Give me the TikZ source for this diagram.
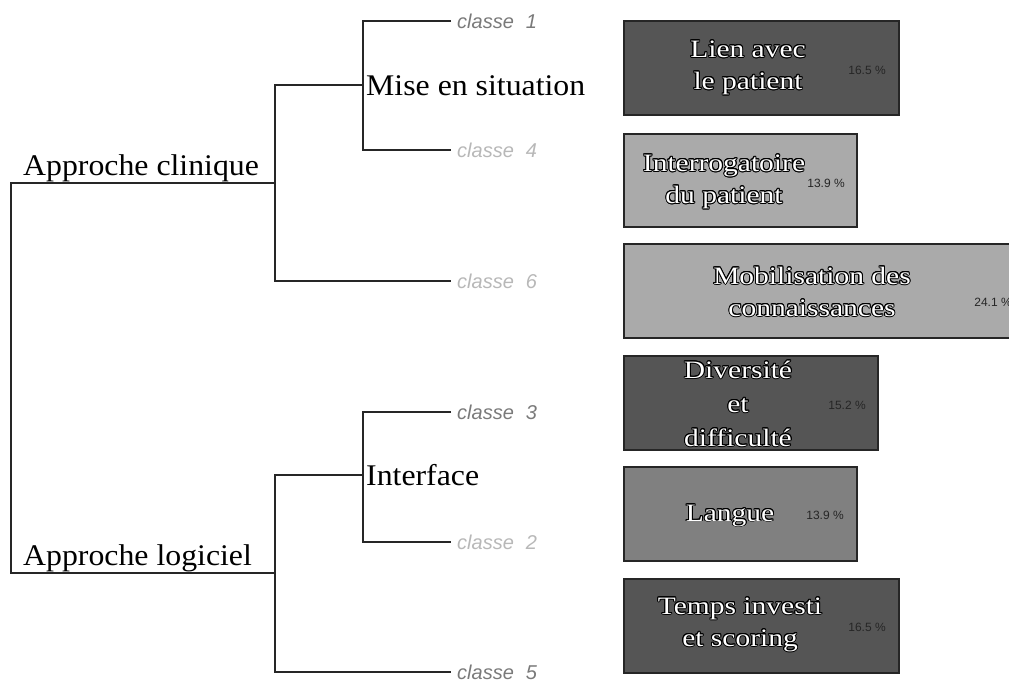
\documentclass[tikz,border=0pt]{standalone}
\usepackage{fontspec}
\usepackage{xcolor}
\usepackage{tikz}
\usepackage{contour}
\usetikzlibrary{positioning}
\setmainfont{Liberation Serif}
\newfontfamily\treefont[FakeStretch=1.06]{Liberation Serif}
\newfontfamily\boxfont[FakeStretch=1.18]{Liberation Serif}
\newfontfamily\classfont{Liberation Sans}
\contourlength{0.9pt}
\definecolor{clsdark}{HTML}{7A7A7A}
\definecolor{clslight}{HTML}{B8B8B8}
\definecolor{bxdark}{HTML}{555555}
\definecolor{bxmid}{HTML}{808080}
\definecolor{bxlight}{HTML}{AAAAAA}
\newcommand{\outlined}[1]{\contour{black}{#1}}
\tikzset{
  tree/.style  ={draw=black!85, line width=1.8pt},
  grp/.style   ={font=\treefont\fontsize{30}{32}\selectfont, inner sep=0pt,
                 anchor=base west},
  cls/.style   ={font=\classfont\itshape\fontsize{20}{22}\selectfont,
                 inner sep=0pt, anchor=base west},
  theme/.style ={rectangle, draw=black!85, line width=1.8pt, anchor=north west,
                 inner sep=0pt},
  ttxt/.style  ={font=\boxfont\fontsize{25}{32}\selectfont, text=white,
                 align=center, inner sep=0pt},
  pct/.style   ={font=\classfont\fontsize{12}{12}\selectfont, text=black!85,
                 inner sep=0pt}
}
\begin{document}
\begin{tikzpicture}[x=1pt, y=-1pt]
\clip (0,0) rectangle (1009,681);
\fill[white] (0,0) rectangle (1009,681);
% dendrogram
\coordinate (root1) at (11,183);
\coordinate (root2) at (11,573);
\coordinate (cli)   at (275,183);
\coordinate (log)   at (275,573);
\coordinate (mis)   at (363,85);
\coordinate (int)   at (363,475);
\coordinate (e1) at (451,21);
\coordinate (e4) at (451,150);
\coordinate (e6) at (451,281);
\coordinate (e3) at (451,412);
\coordinate (e2) at (451,542);
\coordinate (e5) at (451,672);
\draw[tree] (e1) -| (mis) |- (e4);
\draw[tree] (mis) -| (cli) |- (e6);
\draw[tree] (cli) -- (root1) -- (root2) -- (log);
\draw[tree] (e3) -| (int) |- (e2);
\draw[tree] (int) -| (log) |- (e5);
\node[grp] (apcli) at (23,175) {Approche clinique};
\node[grp] (mise)  at (366,95)  {Mise en situation};
\node[grp] (inter) at (366,485) {Interface};
\node[grp] (aplog) at (23,565)  {Approche logiciel};
\node[cls, text=clsdark]  (c1) at (457,28)  {classe\hspace{0.6em}1};
\node[cls, text=clslight] (c4) at (457,157) {classe\hspace{0.6em}4};
\node[cls, text=clslight] (c6) at (457,288) {classe\hspace{0.6em}6};
\node[cls, text=clsdark]  (c3) at (457,419) {classe\hspace{0.6em}3};
\node[cls, text=clslight] (c2) at (457,549) {classe\hspace{0.6em}2};
\node[cls, text=clsdark]  (c5) at (457,679) {classe\hspace{0.6em}5};
% themes
\node[theme, fill=bxdark,  minimum width=275, minimum height=94] (b1) at (623,20)  {};
\node[theme, fill=bxlight, minimum width=233, minimum height=93] (b2) at (623,133) {};
\node[theme, fill=bxlight, minimum width=407, minimum height=94] (b3) at (623,243) {};
\node[theme, fill=bxdark,  minimum width=254, minimum height=94] (b4) at (623,355) {};
\node[theme, fill=bxmid,   minimum width=233, minimum height=94] (b5) at (623,466) {};
\node[theme, fill=bxdark,  minimum width=275, minimum height=94] (b6) at (623,578) {};
\node[ttxt] (t1) at (748,68)  {\outlined{Lien avec}\\\outlined{le patient}};
\node[ttxt] (t2) at (724,182) {\outlined{Interrogatoire}\\\outlined{du patient}};
\node[ttxt] (t3) at (812,292) {\outlined{Mobilisation des}\\\outlined{connaissances}};
\node[ttxt] (t4) at (738,404) {\outlined{Diversit\'e}\\[2pt]\outlined{et}\\[2pt]\outlined{difficult\'e}};
\node[ttxt] (t5) at (730,516) {\outlined{Langue}};
\node[ttxt] (t6) at (740,625) {\outlined{Temps investi}\\\outlined{et scoring}};
\node[pct] (p1) at (867,70)  {16.5 \%};
\node[pct] (p2) at (826,183) {13.9 \%};
\node[pct] (p3) at (993,302) {24.1 \%};
\node[pct] (p4) at (847,405) {15.2 \%};
\node[pct] (p5) at (825,515) {13.9 \%};
\node[pct] (p6) at (867,627) {16.5 \%};
\end{tikzpicture}
\end{document}
